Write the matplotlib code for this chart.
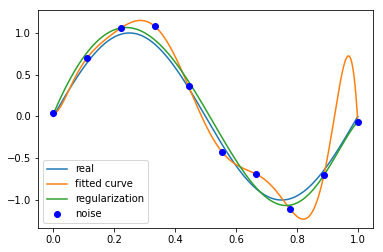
import matplotlib
matplotlib.use("Agg")
import matplotlib.pyplot as plt
import numpy as np

# noisy samples
x_noise = np.linspace(0, 1, 10)
y_noise = [0.04, 0.70, 1.06, 1.08, 0.36, -0.43, -0.69, -1.11, -0.70, -0.06]

degree = 9  # polynomial order used for both fits
regularization = 0.0001

x_points = np.linspace(0, 1, 1000)

# exact polynomial fit through the noisy points
p_fit = np.polyfit(x_noise, y_noise, degree)

# ridge-style fit: (X^T X + 0.5*lambda*I) p = X^T y
X = np.vander(x_noise, degree + 1)
A = X.T @ X + 0.5 * regularization * np.eye(degree + 1)
p_reg = np.linalg.solve(A, X.T @ np.asarray(y_noise))

fig = plt.figure(figsize=(383 / 72, 252 / 72), dpi=72)
ax = fig.add_axes([38 / 383, 1 - 228 / 252, 335 / 383, 218 / 252])

ax.plot(x_points, np.sin(2 * np.pi * x_points), label="real")
ax.plot(x_points, np.poly1d(p_fit)(x_points), label="fitted curve")
ax.plot(x_points, np.poly1d(p_reg)(x_points), label="regularization")
ax.plot(x_noise, y_noise, "bo", label="noise")

ax.set_xlim(-0.05, 1.05)
ax.set_ylim(-1.335, 1.275)
ax.set_xticks([0.0, 0.2, 0.4, 0.6, 0.8, 1.0])
ax.set_yticks([-1.0, -0.5, 0.0, 0.5, 1.0])
ax.legend(loc="lower left")

plt.savefig("out.png", dpi=72)
